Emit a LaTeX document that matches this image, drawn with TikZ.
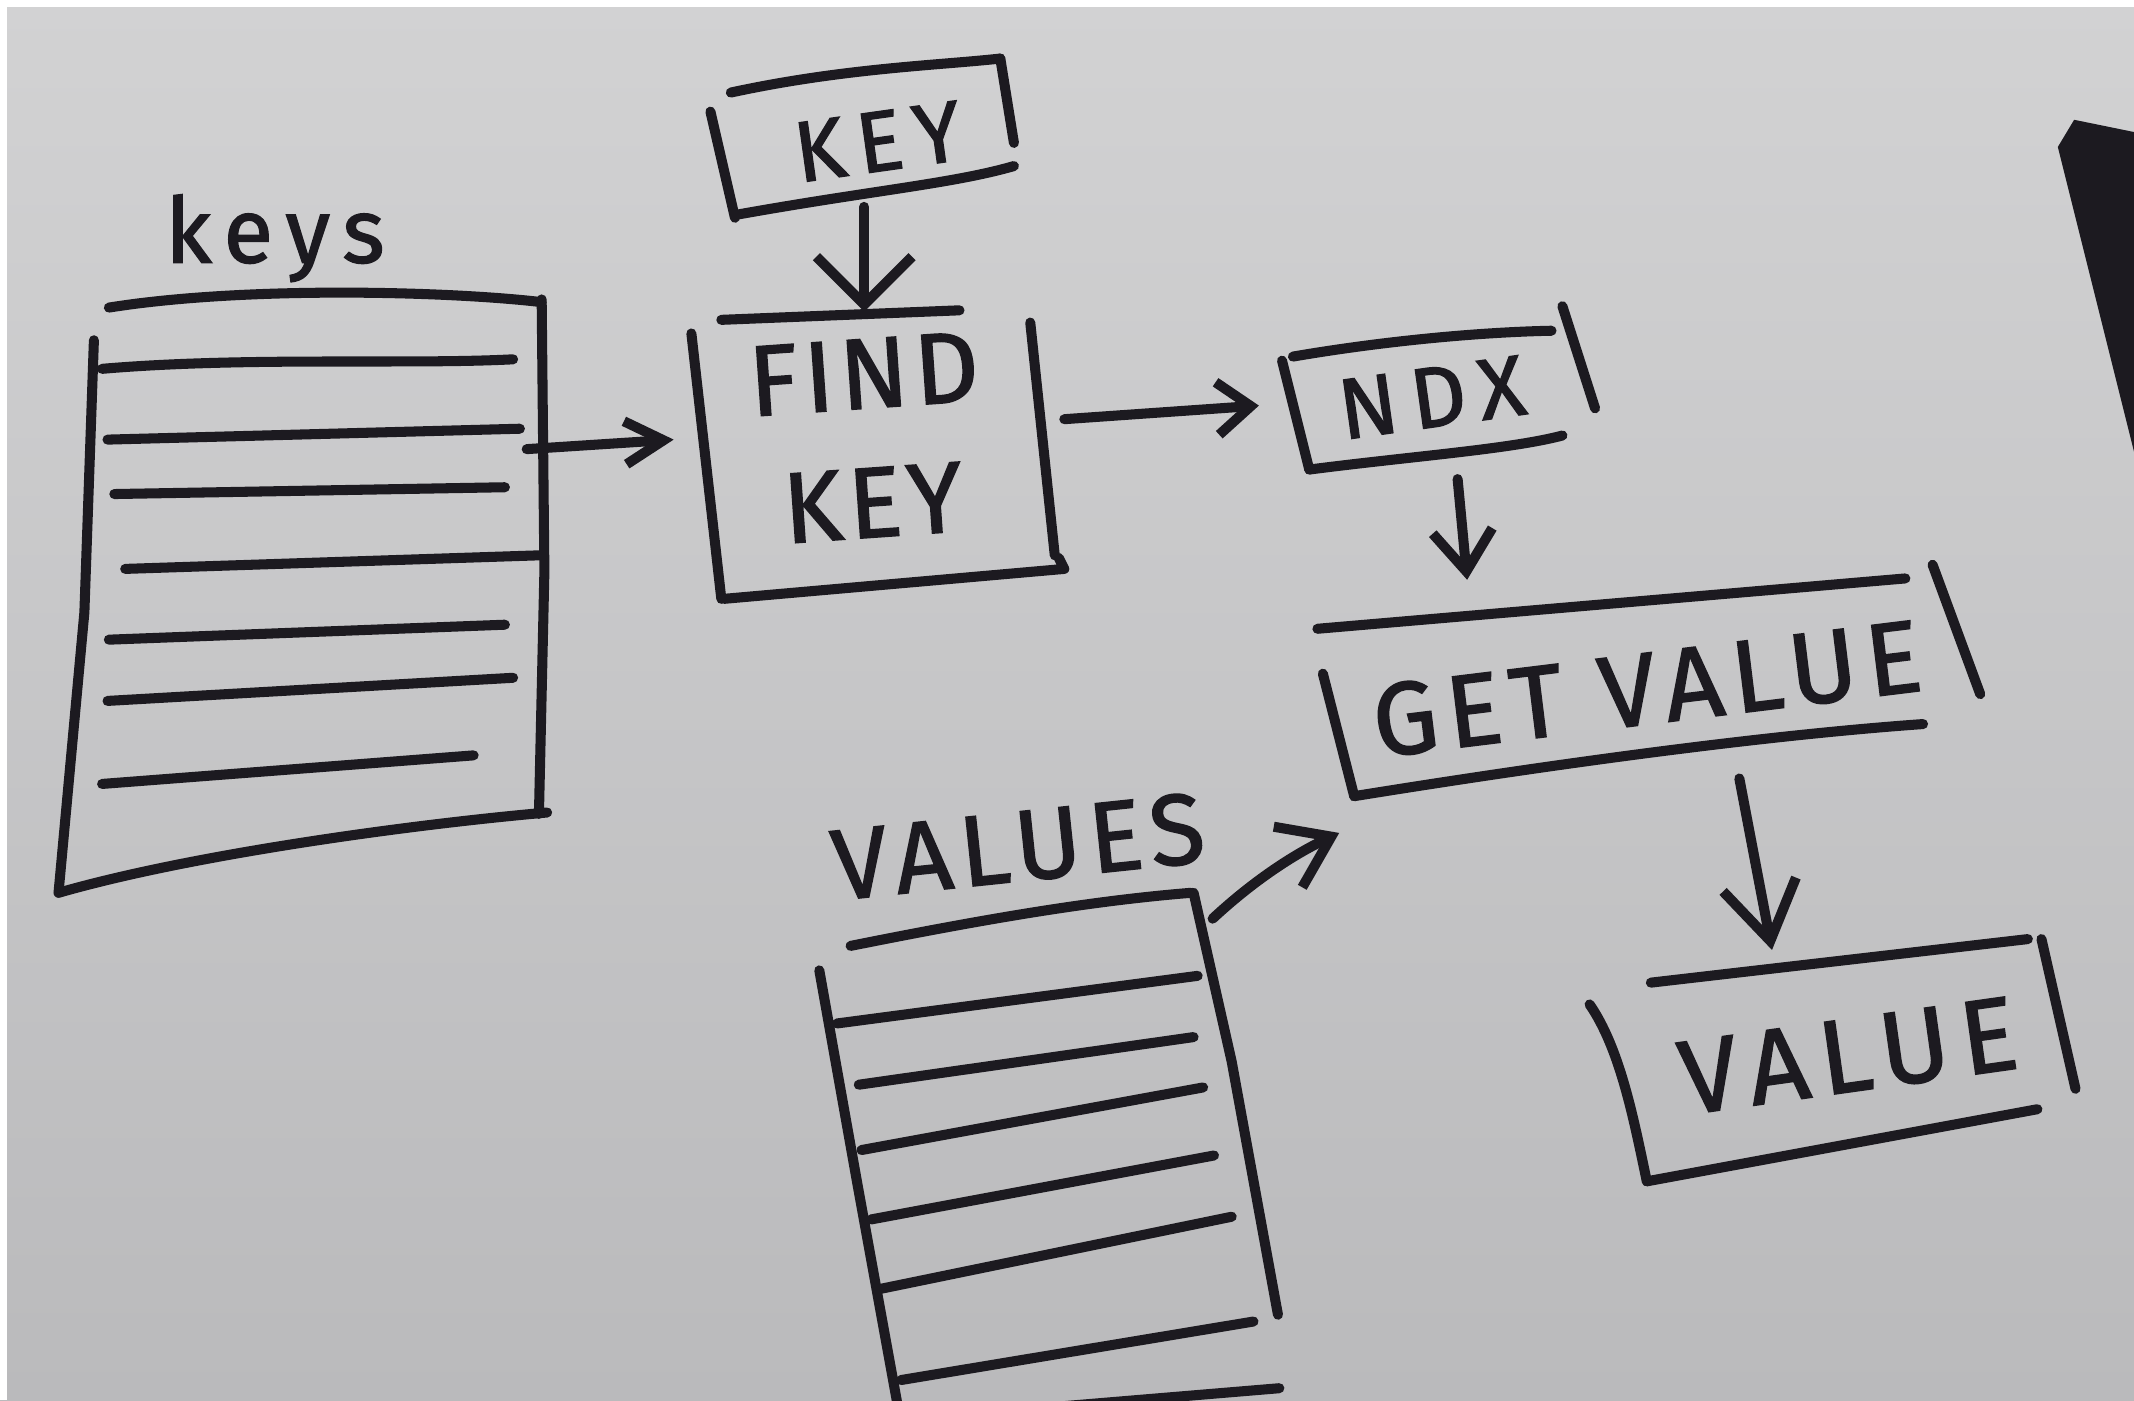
\documentclass[tikz,border=0pt]{standalone}
\usepackage{fontspec}
\setmainfont{Fira Sans}
\usetikzlibrary{arrows.meta}
\definecolor{ink}{RGB}{28,26,32}
\definecolor{paperA}{RGB}{210,210,211}
\definecolor{paperB}{RGB}{186,186,188}
\newcommand\handfont[2]{\fontsize{#1}{#1}\selectfont\addfontfeatures{LetterSpace=#2,FakeBold=1.5}}
\begin{document}
\begin{tikzpicture}[x=0.02cm,y=-0.02cm,
  inkline/.style={draw=ink,line width=4.2pt,line cap=round,line join=round},
  lbl/.style={text=ink,inner sep=0pt},
  arr/.style={inkline,-{Straight Barb[length=#1]}},
  arr/.default={16pt,width=22pt}]
\useasboundingbox (0,0) rectangle (1568,1029);
\shade[top color=paperA,bottom color=paperB] (0,0) rectangle (1568,1029);
\fill[white] (0,0) rectangle (1568,5);
\fill[white] (0,0) rectangle (5,1029);
% dark object at the right edge
\fill[ink] (1512,108) -- (1524,88) -- (1568,97) -- (1568,332) -- cycle;

% ---- keys stack
\node[lbl,font=\handfont{38}{14}] (keyslbl) at (202,175) {keys};
\draw[inkline] (80,226) .. controls (180,210) and (330,214) .. (398,222);
\draw[inkline] (398,220) -- (400,420) -- (396,598);
\draw[inkline] (69,250) -- (62,450) -- (43,656);
\draw[inkline] (43,656) .. controls (140,628) and (300,606) .. (402,597);
\draw[inkline] (75,271) .. controls (180,262) and (300,268) .. (377,264);
\draw[inkline] (79,323) -- (382,315);
\draw[inkline] (84,363) -- (371,358);
\draw[inkline] (92,418) -- (397,408);
\draw[inkline] (80,470) -- (371,459);
\draw[inkline] (79,515) -- (377,498);
\draw[inkline] (75,576) -- (348,555);
\coordinate (keysout) at (387,330);

% ---- KEY box
\node[lbl,rotate=8,font=\handfont{36}{14}] (keylbl) at (645,104) {KEY};
\draw[inkline] (537,68) .. controls (620,50) and (690,48) .. (735,43);
\draw[inkline] (735,43) -- (745,105);
\draw[inkline] (522,82) -- (540,160);
\draw[inkline] (540,158) .. controls (640,140) and (700,135) .. (745,122);
\coordinate (keyout) at (635,152);

% ---- FIND KEY box
\node[lbl,rotate=4,align=center,font=\handfont{42}{6},text depth=0pt] (findlbl) at (638,322) {FIND\\[12pt]KEY};
\draw[inkline] (530,235) -- (705,228);
\draw[inkline] (508,245) -- (530,440);
\draw[inkline] (757,237) -- (775,408);
\draw[inkline] (532,440) -- (782,418) -- (778,410);
\coordinate (findtop) at (635,229);
\coordinate (findin) at (495,323);
\coordinate (findout) at (782,308);

% ---- NDX box
\node[lbl,rotate=8,font=\handfont{36}{16}] (ndxlbl) at (1052,292) {NDX};
\draw[inkline] (950,262) .. controls (1020,250) and (1090,244) .. (1140,243);
\draw[inkline] (1148,225) -- (1172,300);
\draw[inkline] (942,265) -- (962,345);
\draw[inkline] (962,345) .. controls (1040,335) and (1110,330) .. (1148,320);
\coordinate (ndxin) at (925,298);
\coordinate (ndxout) at (1071,352);

% ---- GET VALUE box
\node[lbl,rotate=7,font=\handfont{43}{9}] (getlbl) at (1210,506) {GET VALUE};
\draw[inkline] (968,462) -- (1400,425);
\draw[inkline] (1420,415) -- (1455,510);
\draw[inkline] (972,495) -- (995,585);
\draw[inkline] (995,585) .. controls (1150,560) and (1300,540) .. (1413,532);
\coordinate (gettop) at (1078,426);
\coordinate (getin) at (984,612);
\coordinate (getout) at (1278,572);

% ---- VALUE box
\node[lbl,rotate=8,font=\handfont{44}{11}] (valuelbl) at (1358,776) {VALUE};
\draw[inkline] (1213,722) -- (1490,690);
\draw[inkline] (1500,690) -- (1525,800);
\draw[inkline] (1168,738) .. controls (1190,770) and (1200,820) .. (1210,868);
\draw[inkline] (1210,868) -- (1497,815);
\coordinate (valuetop) at (1302,698);

% ---- values stack
\node[lbl,rotate=6,font=\handfont{42}{8}] (valueslbl) at (748,622) {VALUES};
\draw[inkline] (625,695) .. controls (720,676) and (800,662) .. (875,656);
\draw[inkline] (877,656) -- (905,780) -- (939,966);
\draw[inkline] (602,713) -- (630,870) -- (660,1035);
\draw[inkline] (615,752) -- (880,717);
\draw[inkline] (631,797) -- (877,762);
\draw[inkline] (633,845) -- (884,799);
\draw[inkline] (640,896) -- (892,849);
\draw[inkline] (647,947) -- (905,894);
\draw[inkline] (662,1014) -- (921,971);
\draw[inkline] (700,1040) -- (940,1020);
\coordinate (valuesout) at (891,675);

% ---- connectors
\draw[arr={16pt,width=18pt}] (keysout) -- (findin);
\draw[arr={20pt,width=40pt}] (keyout) -- (findtop);
\draw[arr={14pt,width=22pt}] (findout) -- (ndxin);
\draw[arr={17pt,width=25pt}] (ndxout) -- (gettop);
\draw[arr={24pt,width=31pt}] (getout) -- (valuetop);
\draw[arr={20pt,width=28pt}] (valuesout) .. controls (920,648) and (950,628) .. (getin);
\end{tikzpicture}
\end{document}
